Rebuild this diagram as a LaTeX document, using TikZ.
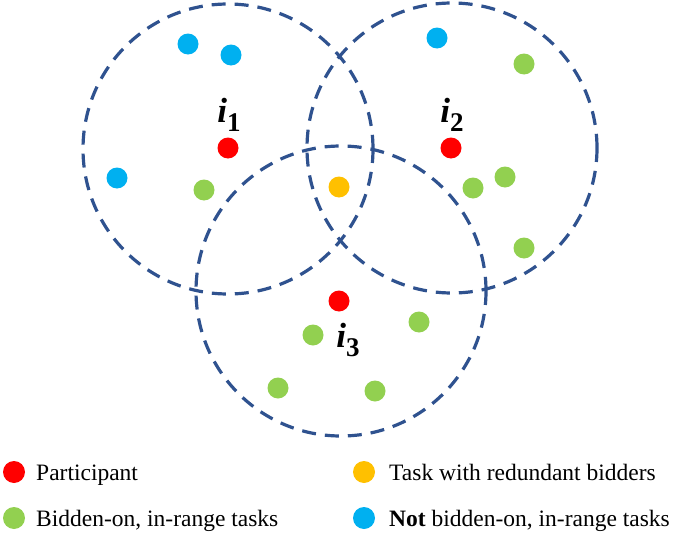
\documentclass[tikz,border=0pt]{standalone}
\usepackage{fontspec}
\setmainfont{Liberation Serif}
\usetikzlibrary{math}
\definecolor{rangeblue}{RGB}{47,82,143}
\definecolor{pred}{RGB}{255,0,0}
\definecolor{tgreen}{RGB}{146,208,80}
\definecolor{torange}{RGB}{255,192,0}
\definecolor{tblue}{RGB}{0,176,240}
\tikzset{
  rangecircle/.style={draw=rangeblue, line width=3.2pt, dash pattern=on 14pt off 9pt},
  dot/.style={circle, inner sep=0pt, minimum size=21pt},
  legdot/.style={circle, inner sep=0pt, minimum size=22pt},
  legtext/.style={anchor=base west, inner sep=0pt, font=\rmfamily\fontsize{23.5}{28}\selectfont},
  plabel/.style={anchor=base, inner sep=0pt}
}
\newcommand{\plab}[1]{{\fontsize{35}{35}\selectfont\bfseries\itshape i}\raisebox{-9pt}{\fontsize{27}{27}\selectfont\bfseries #1}}

\begin{document}
\begin{tikzpicture}[x=1pt,y=-1pt]
\tikzmath{
\r=145;
}
\useasboundingbox (0,0) rectangle (678,538);
%ranges
\draw[rangecircle] (228,149) circle (\r);
\draw[rangecircle] (452,148) circle (\r);
\draw[rangecircle] (341,291) circle (\r);
%participants
\node[dot, fill=pred] (p1) at (228,148) {};
\node[dot, fill=pred] (p2) at (451,148) {};
\node[dot, fill=pred] (p3) at (339,301) {};
\node[plabel] (l1) at (229,122) {\plab{1}};
\node[plabel] (l2) at (452,122) {\plab{2}};
\node[plabel] (l3) at (348,347) {\plab{3}};
%tasks
\foreach \x/\y [count=\i] in {204/190, 524/64, 473/188, 505/177, 524/248, 313/335, 419/322, 278/388, 375/391}
  \node[dot, fill=tgreen] (g\i) at (\x,\y) {};
\foreach \x/\y [count=\i] in {188/44, 231/55, 117/178, 437/38}
  \node[dot, fill=tblue] (b\i) at (\x,\y) {};
\node[dot, fill=torange] (o1) at (339,187) {};
%legend
\node[legdot, fill=pred] (kp) at (14,472) {};
\node[legtext] (tp) at (36,480) {Participant};
\node[legdot, fill=tgreen] (kg) at (14,518) {};
\node[legtext] (tg) at (36,526) {Bidden-on, in-range tasks};
\node[legdot, fill=torange] (ko) at (364,472) {};
\node[legtext] (to) at (389,480) {Task with redundant bidders};
\node[legdot, fill=tblue] (kb) at (364,518) {};
\node[legtext] (tb) at (389,526) {\textbf{Not} bidden-on, in-range tasks};
\end{tikzpicture}
\end{document}
